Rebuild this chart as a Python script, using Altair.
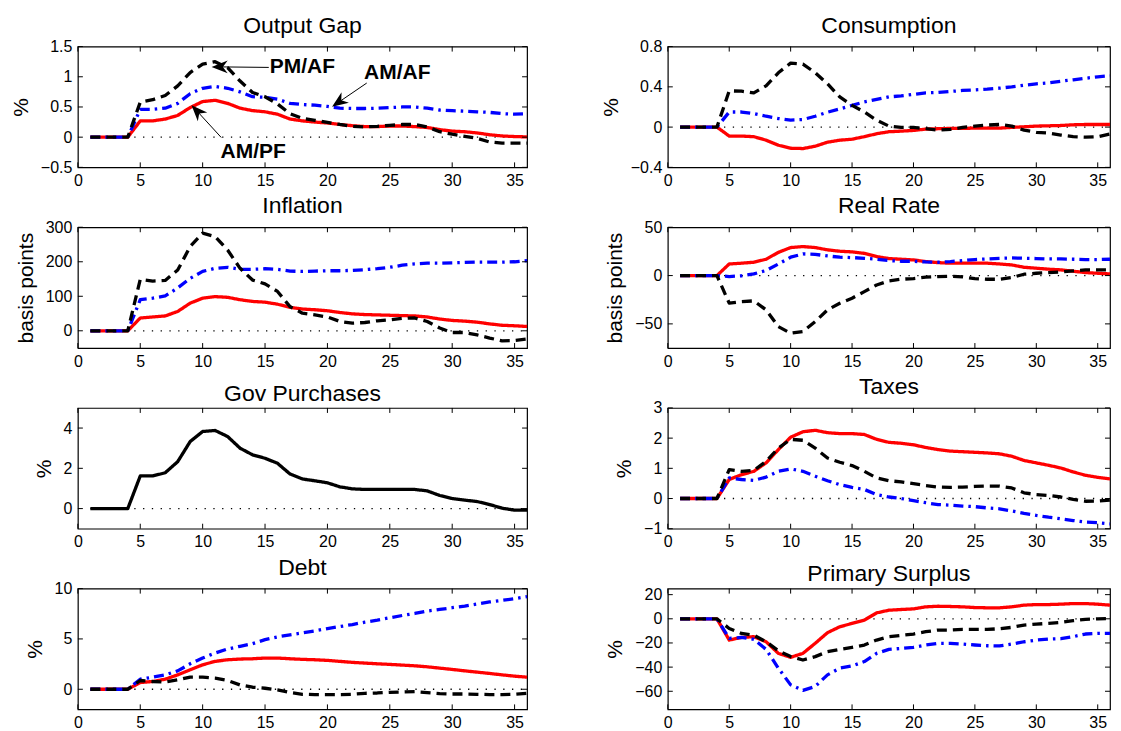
import altair as alt
import pandas as pd

periods = list(range(1, 37))
x_ticks = [0, 5, 10, 15, 20, 25, 30, 35]

# ---- Output Gap (%) ----
og_ampf = [0, 0, 0, 0, 0.27, 0.27, 0.30, 0.36, 0.49, 0.59, 0.61, 0.56, 0.48, 0.44, 0.42, 0.38, 0.30, 0.27, 0.25, 0.235,
           0.21, 0.19, 0.175, 0.175, 0.185, 0.185, 0.175, 0.16, 0.125, 0.10, 0.09, 0.07, 0.04, 0.02, 0.01, 0.005]
og_amaf = [0, 0, 0, 0, 0.46, 0.46, 0.48, 0.56, 0.72, 0.81, 0.84, 0.81, 0.75, 0.67, 0.66, 0.63, 0.56, 0.54, 0.53, 0.51,
           0.48, 0.475, 0.475, 0.48, 0.49, 0.50, 0.50, 0.48, 0.45, 0.44, 0.43, 0.42, 0.41, 0.39, 0.38, 0.39]
og_pmaf = [0, 0, 0, 0, 0.58, 0.62, 0.69, 0.85, 1.07, 1.21, 1.25, 1.15, 0.93, 0.74, 0.67, 0.55, 0.39, 0.31, 0.28, 0.245,
           0.21, 0.18, 0.17, 0.18, 0.195, 0.21, 0.21, 0.17, 0.09, 0.05, 0.015, -0.02, -0.08, -0.10, -0.10, -0.10]

# ---- Consumption (%) ----
c_ampf = [0, 0, 0, 0, -0.089, -0.089, -0.095, -0.13, -0.18, -0.21, -0.213, -0.19, -0.15, -0.13, -0.12, -0.095, -0.066,
          -0.046, -0.04, -0.033, -0.02, -0.016, -0.013, -0.013, -0.01, -0.01, -0.01, -0.003, 0.003, 0.01, 0.013, 0.016,
          0.023, 0.026, 0.026, 0.026]
c_amaf = [0, 0, 0, 0, 0.15, 0.15, 0.134, 0.108, 0.085, 0.069, 0.075, 0.108, 0.148, 0.18, 0.216, 0.25, 0.275, 0.30, 0.31,
          0.325, 0.34, 0.344, 0.354, 0.364, 0.37, 0.377, 0.387, 0.40, 0.416, 0.43, 0.44, 0.456, 0.47, 0.485, 0.50, 0.51]
c_pmaf = [0, 0, 0, 0, 0.36, 0.357, 0.34, 0.41, 0.54, 0.636, 0.626, 0.54, 0.43, 0.30, 0.216, 0.15, 0.069, 0.01, -0.003,
          -0.003, -0.016, -0.03, -0.023, -0.003, 0.01, 0.02, 0.026, 0.01, -0.03, -0.052, -0.06, -0.079, -0.095, -0.10,
          -0.095, -0.069]

# ---- Inflation (basis points) ----
i_ampf = [0, 0, 0, 0, 37, 40, 43, 56, 80, 94.5, 99, 97, 90, 85, 83, 77, 68, 63, 61, 58, 53, 49, 47, 46, 45, 44, 43, 40,
          34, 30, 28, 25, 20, 16, 14.5, 12.5]
i_amaf = [0, 0, 0, 0, 90, 94.5, 101, 124, 152, 172, 181, 184, 178, 178, 180, 178, 173, 172, 173, 174, 174, 175, 177, 180,
          184, 190, 194, 196, 196, 197, 198, 199, 199, 199, 200, 203]
i_pmaf = [0, 0, 0, 0, 149, 144, 146, 176, 244, 283, 273, 234, 181, 147, 136, 114, 70, 51, 46, 40, 27, 22, 24, 29, 32, 36,
          37, 27, 8, -5, -5, -12, -21, -29, -28, -24]

# ---- Real Rate (basis points) ----
r_ampf = [0, 0, 0, 0, 12, 12.8, 13.8, 16.9, 24, 29, 30, 29, 26.6, 25.2, 24.5, 23, 19.7, 17.6, 16.9, 16.2, 14.5, 13.4,
          12.8, 12.8, 12.8, 12.8, 12, 11, 8.6, 7.6, 6.6, 5.9, 4.5, 3.1, 2.4, 1.7]
r_amaf = [0, 0, 0, 0, -1, -0.3, 1.7, 5.2, 12, 19, 22.4, 22, 20.3, 19, 18.6, 17.9, 16.9, 15.5, 14.8, 14.8, 14.1, 13.8,
          14.5, 15.5, 16.6, 17.2, 17.9, 18.3, 17.9, 17.6, 17.2, 17.2, 16.9, 16.6, 16.6, 16.9]
r_pmaf = [0, 0, 0, 0, -28.6, -26.9, -26.2, -35.5, -52.8, -59.7, -57.9, -47.6, -35.5, -28.6, -23.4, -16.6, -9.7, -5.5,
          -3.8, -3.1, -1.7, -1, -0.7, -1.4, -3.1, -3.8, -3.8, -2.1, 1.4, 2.4, 3.1, 3.8, 4.8, 5.9, 5.9, 5.9]

# ---- Gov Purchases (%) ----
g_all = [0, 0, 0, 0, 1.62, 1.62, 1.78, 2.33, 3.33, 3.83, 3.88, 3.58, 3.0, 2.67, 2.5, 2.25, 1.72, 1.47, 1.38, 1.28, 1.08,
         0.98, 0.95, 0.95, 0.95, 0.95, 0.95, 0.88, 0.65, 0.5, 0.42, 0.35, 0.2, 0.02, -0.08, -0.08]

# ---- Taxes (%) ----
t_ampf = [0, 0, 0, 0, 0.63, 0.79, 0.90, 1.18, 1.62, 2.03, 2.21, 2.26, 2.18, 2.15, 2.15, 2.12, 1.96, 1.86, 1.83, 1.78,
          1.69, 1.62, 1.57, 1.55, 1.53, 1.51, 1.48, 1.40, 1.26, 1.18, 1.10, 1.01, 0.88, 0.77, 0.70, 0.65]
t_amaf = [0, 0, 0, 0, 0.68, 0.63, 0.60, 0.71, 0.90, 0.98, 0.90, 0.74, 0.59, 0.46, 0.37, 0.30, 0.13, 0.05, 0.0, -0.07,
          -0.14, -0.20, -0.22, -0.25, -0.27, -0.31, -0.34, -0.41, -0.49, -0.56, -0.62, -0.67, -0.73, -0.78, -0.80, -0.84]
t_pmaf = [0, 0, 0, 0, 0.96, 0.90, 0.93, 1.23, 1.67, 1.96, 1.93, 1.67, 1.34, 1.20, 1.09, 0.90, 0.68, 0.59, 0.55, 0.49,
          0.43, 0.38, 0.37, 0.38, 0.40, 0.41, 0.41, 0.35, 0.19, 0.13, 0.10, 0.05, -0.03, -0.09, -0.08, -0.05]

# ---- Debt (%) ----
d_ampf = [0, 0, 0, 0, 0.67, 0.77, 1.0, 1.43, 1.93, 2.43, 2.77, 2.93, 3.0, 3.03, 3.1, 3.1, 3.03, 2.97, 2.93, 2.87, 2.77,
          2.67, 2.6, 2.53, 2.47, 2.4, 2.33, 2.23, 2.1, 1.97, 1.83, 1.7, 1.57, 1.43, 1.3, 1.2]
d_amaf = [0, 0, 0, 0, 1.0, 1.2, 1.43, 1.83, 2.53, 3.1, 3.6, 4.0, 4.27, 4.53, 4.93, 5.2, 5.4, 5.6, 5.8, 6.03, 6.23, 6.43,
          6.67, 6.87, 7.1, 7.33, 7.53, 7.77, 7.93, 8.1, 8.27, 8.47, 8.67, 8.83, 9.0, 9.2]
d_pmaf = [0, 0, 0, 0, 0.87, 0.77, 0.73, 0.93, 1.2, 1.2, 1.1, 0.87, 0.43, 0.2, 0.1, -0.07, -0.33, -0.5, -0.53, -0.53,
          -0.53, -0.5, -0.4, -0.37, -0.3, -0.27, -0.23, -0.33, -0.43, -0.47, -0.47, -0.5, -0.53, -0.53, -0.5, -0.4]

# ---- Primary Surplus (%) ----
p_ampf = [0, 0, 0, 0, -17.6, -15.4, -14.8, -19, -28.6, -31.9, -28.6, -20.3, -11.5, -6.6, -3.8, -1.1, 4.9, 7.1, 7.7, 8.2,
          9.9, 10.4, 10.2, 9.9, 9.3, 9.1, 9.1, 9.9, 11.3, 11.8, 11.8, 12.1, 12.6, 12.6, 12.1, 11.3]
p_amaf = [0, 0, 0, 0, -16.2, -15.4, -17, -25.3, -40.9, -54.7, -59.3, -56, -46.4, -40.9, -39, -35.4, -28.6, -25.3, -24.5,
          -23.6, -21.7, -20.3, -20.3, -20.9, -21.7, -22.3, -22.5, -20.9, -19, -17.6, -16.8, -16.5, -14.8, -12.6, -12.1,
          -12.1]
p_pmaf = [0, 0, 0, 0, -8, -12.1, -13.5, -19, -26.4, -31.3, -34.1, -31.3, -27.2, -25.3, -23.6, -21.7, -17.6, -14.8,
          -13.7, -12.6, -10.7, -9.3, -9.3, -8.8, -8.8, -8.8, -8.2, -7.1, -5.2, -4.4, -3.8, -3.0, -1.6, -0.5, 0, 0.3]

# ---- Annotation labels (Output Gap panel), in data coordinates ----
ann_labels = ["PM/AF", "AM/AF", "AM/PF"]
ann_text_x = [18.0, 25.6, 14.05]
ann_text_y = [1.155, 1.07, -0.24]
ann_tail_x = [15.3, 23.15, 11.49]
ann_tail_y = [1.155, 0.896, -0.005]
ann_head_x = [11.36, 20.9, 9.55]
ann_head_y = [1.164, 0.579, 0.432]
ann_head_angle = [180, 145, 227]

# ---- styles ----
W_LEFT, W_RIGHT, H = 450, 443, 121
FONT = "Liberation Sans"
STYLE = {
    "AM/PF": dict(color="#ff0000", dash=[1, 0]),
    "AM/AF": dict(color="#0000ff", dash=[10, 5, 2.5, 5]),
    "PM/AF": dict(color="#000000", dash=[10, 6]),
    "G": dict(color="#000000", dash=[1, 0]),
}
ARROW = "M1,0L-1,-0.8L-0.4,0L-1,0.8Z"


def panel(title, ytitle, ydom, yticks, series, W, annotate=False):
    xs = alt.Scale(domain=[0, 36], nice=False, zero=False)
    ys = alt.Scale(domain=ydom, nice=False, zero=False)
    x_axis = alt.Axis(values=x_ticks, title=None, labelPadding=5)
    y_axis = alt.Axis(values=yticks, title=ytitle, format="~f", labelPadding=6)

    def X(f):
        return alt.X(f, scale=xs, axis=x_axis)

    def Y(f):
        return alt.Y(f, scale=ys, axis=y_axis)

    rows = []
    for name, vals in series:
        for p, v in zip(periods, vals):
            rows.append({"x": p, "y": v, "s": name})
    df = pd.DataFrame(rows)

    layers = []
    # zero reference line (dotted)
    zero = alt.Chart(pd.DataFrame({"a": [1], "b": [36], "z": [0]})).mark_rule(
        color="black", strokeWidth=1.3, strokeDash=[1.3, 7.5]
    ).encode(x=X("a:Q"), x2="b:Q", y=Y("z:Q"))
    layers.append(zero)

    for name, _ in series:
        st = STYLE[name]
        ln = alt.Chart(df).transform_filter(alt.datum.s == name).mark_line(
            color=st["color"], strokeWidth=3.3, strokeDash=st["dash"], strokeJoin="round", strokeCap="butt"
        ).encode(x=X("x:Q"), y=Y("y:Q"))
        layers.append(ln)

    # inward ticks (MATLAB style box ticks)
    xt = pd.DataFrame({"t": x_ticks})
    yt = pd.DataFrame({"t": yticks})
    for y0, y1 in [(0, 5), (H - 5, H)]:
        layers.append(alt.Chart(xt).mark_rule(color="black", strokeWidth=1).encode(
            x=X("t:Q"), y=alt.value(y0), y2=alt.value(y1)))
    for x0, x1 in [(0, 5), (W - 5, W)]:
        layers.append(alt.Chart(yt).mark_rule(color="black", strokeWidth=1).encode(
            y=Y("t:Q"), x=alt.value(x0), x2=alt.value(x1)))

    if annotate:
        adf = pd.DataFrame({
            "label": ann_labels, "tx": ann_text_x, "ty": ann_text_y,
            "ax": ann_tail_x, "ay": ann_tail_y, "hx": ann_head_x, "hy": ann_head_y,
            "ang": ann_head_angle,
        })
        layers.append(alt.Chart(adf).mark_rule(color="black", strokeWidth=1).encode(
            x=X("ax:Q"), y=Y("ay:Q"), x2="hx:Q", y2="hy:Q"))
        layers.append(alt.Chart(adf).mark_point(
            shape=ARROW, filled=True, color="black", size=260, opacity=1, strokeWidth=0
        ).encode(x=X("hx:Q"), y=Y("hy:Q"), angle=alt.Angle("ang:Q", scale=None)))
        layers.append(alt.Chart(adf).mark_text(
            font=FONT, fontSize=21, fontWeight="bold", color="black", align="center", baseline="middle"
        ).encode(x=X("tx:Q"), y=Y("ty:Q"), text="label:N"))

    return alt.layer(*layers).properties(
        width=W, height=H,
        title=alt.TitleParams(title, fontSize=23, font=FONT, fontWeight="normal", color="black", offset=1),
    )


panels = [
    panel("Output Gap", "%", [-0.5, 1.5], [-0.5, 0, 0.5, 1, 1.5],
          [("AM/PF", og_ampf), ("AM/AF", og_amaf), ("PM/AF", og_pmaf)], W_LEFT, annotate=True),
    panel("Consumption", "%", [-0.4, 0.8], [-0.4, 0, 0.4, 0.8],
          [("AM/PF", c_ampf), ("AM/AF", c_amaf), ("PM/AF", c_pmaf)], W_RIGHT),
    panel("Inflation", "basis points", [-50, 300], [0, 100, 200, 300],
          [("AM/PF", i_ampf), ("AM/AF", i_amaf), ("PM/AF", i_pmaf)], W_LEFT),
    panel("Real Rate", "basis points", [-75, 50], [-50, 0, 50],
          [("AM/PF", r_ampf), ("AM/AF", r_amaf), ("PM/AF", r_pmaf)], W_RIGHT),
    panel("Gov Purchases", "%", [-1, 5], [0, 2, 4], [("G", g_all)], W_LEFT),
    panel("Taxes", "%", [-1, 3], [-1, 0, 1, 2, 3],
          [("AM/PF", t_ampf), ("AM/AF", t_amaf), ("PM/AF", t_pmaf)], W_RIGHT),
    panel("Debt", "%", [-2, 10], [0, 5, 10],
          [("AM/PF", d_ampf), ("AM/AF", d_amaf), ("PM/AF", d_pmaf)], W_LEFT),
    panel("Primary Surplus", "%", [-75, 25], [-60, -40, -20, 0, 20],
          [("AM/PF", p_ampf), ("AM/AF", p_amaf), ("PM/AF", p_pmaf)], W_RIGHT),
]

chart = alt.concat(*panels, columns=2, spacing={"row": 60, "column": 141}, bounds="flush").properties(
    padding={"left": 1, "top": 5, "right": 0, "bottom": 0},
    background="white",
).configure_view(
    stroke="black", strokeWidth=1.2
).configure_axis(
    labelFont=FONT, labelFontSize=16, labelColor="black",
    titleFont=FONT, titleFontSize=21, titleFontWeight="normal", titleColor="black", titlePadding=9,
    ticks=False, domain=False, grid=False, labelFlush=False,
).configure_title(anchor="middle")

chart.save("out.html", embed_options={"renderer": "svg", "actions": False})
